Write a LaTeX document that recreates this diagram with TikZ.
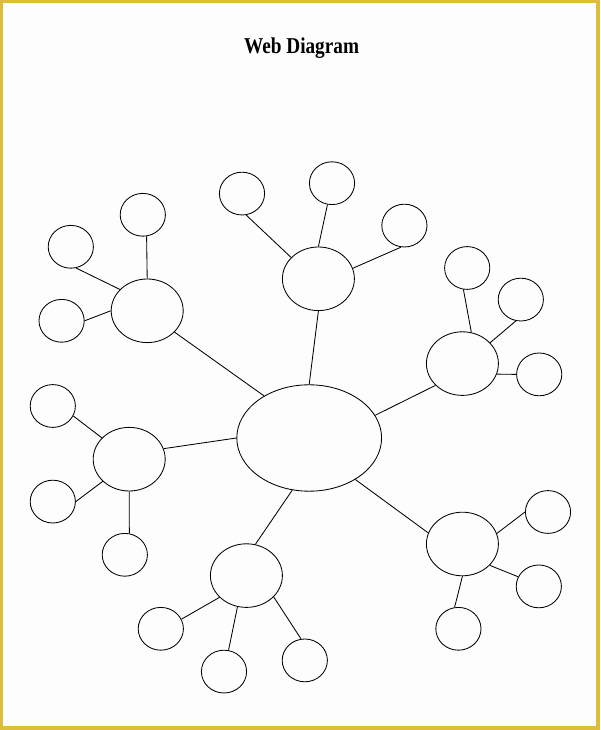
\documentclass[tikz,border=0pt]{standalone}
\usepackage{tikz}
\usepackage{fontspec}
\setmainfont{Liberation Serif}
\usetikzlibrary{shapes.geometric}
\definecolor{frame}{RGB}{221,190,58}
\definecolor{paper}{RGB}{253,253,253}
\tikzset{
	bubble/.style={ellipse, draw, line width=0.6pt, inner sep=0pt},
	core/.style={bubble, minimum width=3.62cm, minimum height=2.66cm},
	hub/.style={bubble, minimum width=1.8cm, minimum height=1.59cm},
	leaf/.style={bubble, minimum width=1.13cm, minimum height=1.07cm},
	spoke/.style={line width=0.6pt}
}

\begin{document}
\begin{tikzpicture}
	\fill[frame] (0,0) rectangle (15,18.25);
	\fill[paper] (0.085,0.09) rectangle (14.9,18.17);
	\node[anchor=base, xscale=0.85, font=\fontsize{16.1}{19}\selectfont\bfseries] (title) at (7.54,16.92) {Web Diagram};
	\node[core] (centre) at (7.73,7.30) {};
	\node[hub] (hA) at (3.68,10.48) {};
	\node[hub] (hB) at (7.96,11.28) {};
	\node[hub] (hC) at (11.56,9.16) {};
	\node[hub] (hD) at (3.23,6.77) {};
	\node[hub] (hE) at (6.16,3.86) {};
	\node[hub] (hF) at (11.56,4.65) {};
	\node[leaf] (a1) at (3.57,12.88) {};
	\node[leaf] (a2) at (1.77,12.08) {};
	\node[leaf] (a3) at (1.54,10.23) {};
	\node[leaf] (b1) at (6.05,13.41) {};
	\node[leaf] (b2) at (8.30,13.67) {};
	\node[leaf] (b3) at (10.11,12.61) {};
	\node[leaf] (c1) at (11.68,11.55) {};
	\node[leaf] (c2) at (13.02,10.76) {};
	\node[leaf] (c3) at (13.48,8.89) {};
	\node[leaf] (d1) at (1.32,8.10) {};
	\node[leaf] (d2) at (1.32,5.71) {};
	\node[leaf] (d3) at (3.12,4.38) {};
	\node[leaf] (e1) at (4.02,2.53) {};
	\node[leaf] (e2) at (5.60,1.46) {};
	\node[leaf] (e3) at (7.62,1.74) {};
	\node[leaf] (f1) at (13.70,5.45) {};
	\node[leaf] (f2) at (13.47,3.59) {};
	\node[leaf] (f3) at (11.46,2.53) {};
	\draw[spoke] (centre.137) -- (hA.322);
	\draw[spoke] (centre.90) -- (hB.270);
	\draw[spoke] (centre.19) -- (hC.219);
	\draw[spoke] (centre.180) -- (hD.17);
	\draw[spoke] (centre.252) -- (hE.74);
	\draw[spoke] (centre.318) -- (hF.162);
	\draw[spoke] (hA.90) -- (a1.280);
	\draw[spoke] (hA.142) -- (a2.284);
	\draw[spoke] (hA.180) -- (a3.0);
	\draw[spoke] (hB.142) -- (b1.281);
	\draw[spoke] (hB.90) -- (b2.258);
	\draw[spoke] (hB.17) -- (b3.261);
	\draw[spoke] (hC.74) -- (c1.260);
	\draw[spoke] (hC.37) -- (c2.257);
	\draw[spoke] (hC.343) -- (c3.180);
	\draw[spoke] (hD.142) -- (d1.334);
	\draw[spoke] (hD.220) -- (d2.0);
	\draw[spoke] (hD.270) -- (d3.78);
	\draw[spoke] (hE.219) -- (e1.25);
	\draw[spoke] (hE.254) -- (e2.78);
	\draw[spoke] (hE.322) -- (e3.100);
	\draw[spoke] (hF.17) -- (f1.180);
	\draw[spoke] (hF.322) -- (f2.155);
	\draw[spoke] (hF.270) -- (f3.100);
\end{tikzpicture}
\end{document}
